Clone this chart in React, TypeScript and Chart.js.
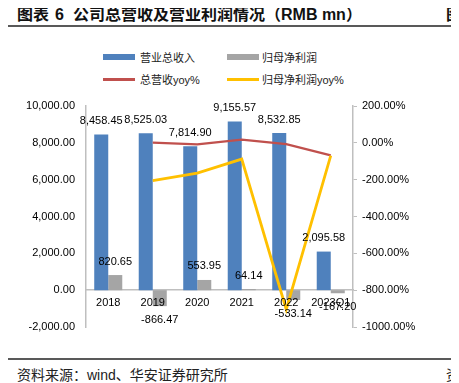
import React, { useEffect, useRef } from "react";
import { Chart, registerables } from "chart.js";

Chart.register(...registerables);

const categories = ["2018", "2019", "2020", "2021", "2022", "2023Q1"];
const revenue = [8458.45, 8525.03, 7814.9, 9155.57, 8532.85, 2095.58];
const netProfit = [820.65, -866.47, 553.95, 64.14, -533.14, -167.2];
const revenueYoy = [null, 0.79, -8.33, 17.16, -6.8, -68];
const profitYoy = [null, -205.6, -163.9, -88.4, -905, -70];

const leftMin = -2000;
const leftMax = 10000;
const leftStep = 2000;
const rightMin = -1000;
const rightMax = 200;
const rightStep = 200;

const seriesNames = ["营业总收入", "归母净利润", "总营收yoy%", "归母净利润yoy%"];
const colors = ["#4f81bd", "#a5a5a5", "#c0504d", "#ffc000"];

const LATIN = "'Liberation Sans', Arial, 'Noto Sans CJK SC', sans-serif";
const CJK = "'Liberation Sans', 'Noto Sans CJK SC', sans-serif";

const fmtNum = (v: number) =>
  v.toLocaleString("en-US", { minimumFractionDigits: 2, maximumFractionDigits: 2 });

const labelPlugin = {
  id: "barLabels",
  afterDatasetsDraw(chart: any) {
    const ctx = chart.ctx;
    ctx.save();
    ctx.font = `11px ${LATIN}`;
    ctx.fillStyle = "#000";
    ctx.textAlign = "center";
    ctx.textBaseline = "middle";
    [0, 1].forEach((di) => {
      const meta = chart.getDatasetMeta(di);
      const data = chart.data.datasets[di].data as number[];
      meta.data.forEach((el: any, i: number) => {
        const v = data[i];
        const y = v >= 0 ? el.y - 13.5 : el.y + 14;
        ctx.fillText(fmtNum(v), el.x, y);
      });
    });
    ctx.restore();
  },
};

function ChartCanvas() {
  const ref = useRef<HTMLCanvasElement | null>(null);
  useEffect(() => {
    if (!ref.current) return;
    Chart.defaults.font.family = LATIN;
    const chart = new Chart(ref.current, {
      type: "bar",
      data: {
        labels: categories,
        datasets: [
          {
            type: "bar",
            label: seriesNames[0],
            data: revenue,
            backgroundColor: colors[0],
            yAxisID: "y",
            order: 2,
          },
          {
            type: "bar",
            label: seriesNames[1],
            data: netProfit,
            backgroundColor: colors[1],
            yAxisID: "y",
            order: 2,
          },
          {
            type: "line",
            label: seriesNames[2],
            data: revenueYoy,
            borderColor: colors[2],
            backgroundColor: colors[2],
            borderWidth: 2.2,
            pointRadius: 0,
            tension: 0,
            yAxisID: "y1",
            order: 1,
          },
          {
            type: "line",
            label: seriesNames[3],
            data: profitYoy,
            borderColor: colors[3],
            backgroundColor: colors[3],
            borderWidth: 2.8,
            pointRadius: 0,
            tension: 0,
            yAxisID: "y1",
            order: 0,
          },
        ] as any,
      },
      options: {
        animation: false,
        responsive: false,
        maintainAspectRatio: false,
        devicePixelRatio: 1,
        datasets: { bar: { categoryPercentage: 0.63, barPercentage: 1 } } as any,
        layout: { padding: { top: 18, bottom: 18, left: 0, right: 0 } },
        plugins: {
          legend: { display: false },
          tooltip: { enabled: false },
          title: { display: false },
        },
        scales: {
          x: {
            type: "category",
            position: { y: 0 } as any,
            grid: { display: false, drawTicks: false },
            border: { color: "#bfbfbf", width: 1.5 },
            ticks: { z: 1, padding: 6, color: "#000", font: { size: 11 }, maxRotation: 0, autoSkip: false },
          },
          y: {
            position: "left",
            min: leftMin,
            max: leftMax,
            grid: { display: false, drawTicks: false },
            border: { color: "#bfbfbf", width: 1.5 },
            ticks: {
              stepSize: leftStep,
              padding: 11,
              color: "#000",
              font: { size: 11 },
              callback: (v: any) => fmtNum(Number(v)),
            },
            afterFit: (s: any) => {
              s.width = 86;
            },
          },
          y1: {
            position: "right",
            min: rightMin,
            max: rightMax,
            grid: { display: true, drawOnChartArea: false, drawTicks: true, tickLength: 4, color: "#bfbfbf" },
            border: { color: "#bfbfbf", width: 1.5 },
            ticks: {
              stepSize: rightStep,
              padding: 5,
              color: "#000",
              font: { size: 11 },
              callback: (v: any) => Number(v).toFixed(2) + "%",
            },
            afterFit: (s: any) => {
              s.width = 106;
            },
          },
        },
      } as any,
      plugins: [labelPlugin],
    });
    return () => chart.destroy();
  }, []);
  return (
    <canvas
      ref={ref}
      width={459}
      height={257}
      style={{ position: "absolute", left: 0, top: 88, width: 459, height: 257 }}
    />
  );
}

export default function App() {
  const abs = (s: React.CSSProperties): React.CSSProperties => ({ position: "absolute", ...s });
  const legendText = (left: number, cy: number, text: string) => (
    <div
      style={abs({
        left,
        top: cy - 7,
        height: 14,
        lineHeight: "14px",
        fontSize: 11,
        fontFamily: CJK,
        color: "#222",
        whiteSpace: "nowrap",
      })}
    >
      {text}
    </div>
  );
  const titleStyle = (left: number): React.CSSProperties =>
    abs({
      left,
      top: 5,
      height: 20,
      lineHeight: "20px",
      fontSize: 16,
      fontWeight: "bold",
      fontFamily: CJK,
      color: "#111",
      whiteSpace: "nowrap",
    });
  const footStyle = (left: number): React.CSSProperties =>
    abs({
      left,
      top: 366,
      height: 18,
      lineHeight: "18px",
      fontSize: 14,
      fontFamily: CJK,
      color: "#222",
      whiteSpace: "nowrap",
    });
  return (
    <div
      style={{
        position: "relative",
        width: 459,
        height: 383,
        margin: "-8px 0 0 -8px",
        overflow: "hidden",
        background: "#fff",
      }}
    >
      <div style={titleStyle(17)}>图表</div>
      <div style={titleStyle(55)}>6</div>
      <div style={titleStyle(73)}>公司总营收及营业利润情况（RMB mn）</div>
      <div style={titleStyle(446)}>图</div>
      <div style={abs({ left: 7, top: 25, width: 452, height: 2, background: "#595959" })} />

      <div style={abs({ left: 103, top: 54, width: 32, height: 6, background: colors[0] })} />
      {legendText(140, 57.5, seriesNames[0])}
      <div style={abs({ left: 227, top: 54, width: 32, height: 6, background: colors[1] })} />
      {legendText(262, 57.5, seriesNames[1])}
      <div style={abs({ left: 103, top: 78, width: 32, height: 3, background: colors[2] })} />
      {legendText(140, 79.5, seriesNames[2])}
      <div style={abs({ left: 227, top: 78, width: 32, height: 3, background: colors[3] })} />
      {legendText(262, 79.5, seriesNames[3])}

      <ChartCanvas />

      <div style={abs({ left: 7, top: 358, width: 452, height: 2, background: "#595959" })} />
      <div style={footStyle(17)}>资料来源：wind、华安证券研究所</div>
      <div style={footStyle(446)}>资</div>
    </div>
  );
}
